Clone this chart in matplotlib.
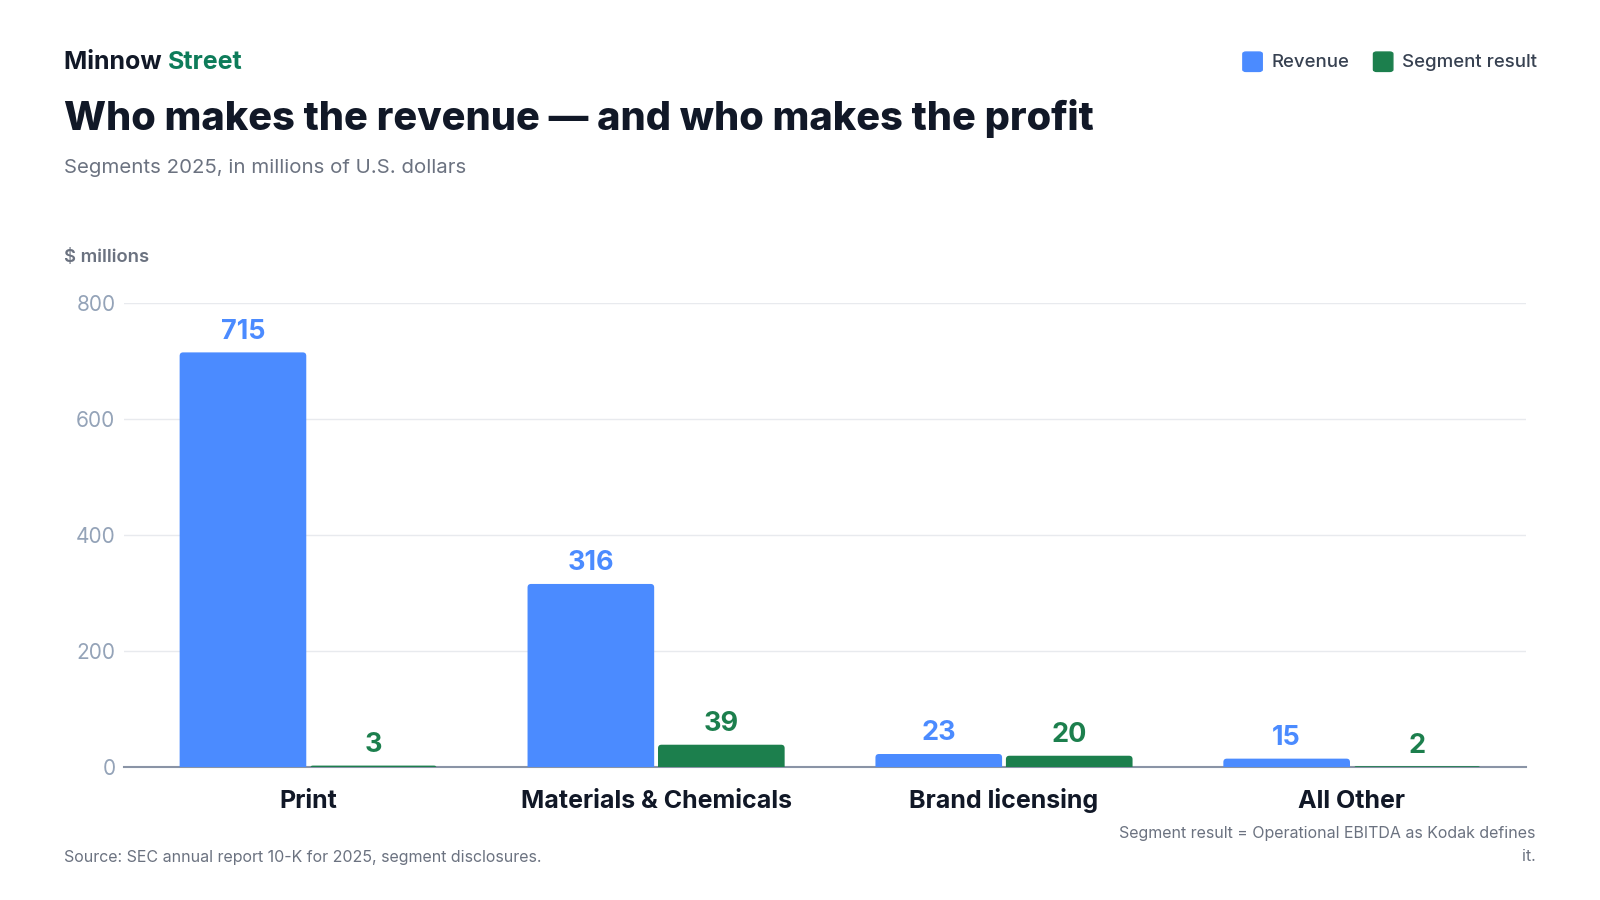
import numpy as np
from matplotlib import pyplot as plt
from matplotlib.patches import FancyBboxPatch

plt.rcParams['font.family'] = ['Inter', 'DejaVu Sans']

categories = ['Print', 'Materials & Chemicals', 'Brand licensing', 'All Other']
revenue = [715, 316, 23, 15]
segment_result = [3, 39, 20, 2]
y_ticks = [0, 200, 400, 600, 800]

blue = '#4B8BFF'
green = '#1C7F4D'
dark = '#111827'
gray = '#6B7280'
tick_gray = '#94A3B8'

W, H = 1600, 900
S = 1600 / 1568  # positions below were measured on a scaled-down view


def fx(p):
    return p * S / W


def fy(p):
    return 1 - p * S / H


fig = plt.figure(figsize=(16, 9), dpi=100, facecolor='white')
ax = fig.add_axes([fx(122), fy(752), fx(1495) - fx(122), fy(297) - fy(752)])

x = np.arange(len(categories))
w = 0.364
off = 0.1875
xlim = (-0.528, 3.499)
ylim = (0, 800)
ax.set_xlim(*xlim)
ax.set_ylim(*ylim)
b1 = ax.bar(x - off, revenue, w, color=blue, zorder=3)
b2 = ax.bar(x + off, segment_result, w, color=green, zorder=3)

# swap plain bars for ones with slightly rounded tops
ux = (xlim[1] - xlim[0]) / ((1495 - 122) * S)   # data units per pixel, x
uy = (ylim[1] - ylim[0]) / ((752 - 297) * S)    # data units per pixel, y
aspect = uy / ux
r_px = 3.5
for bars in (b1, b2):
    for bar in bars:
        bx, bw, bh = bar.get_x(), bar.get_width(), bar.get_height()
        h_px = bh / uy + r_px
        r = min(r_px, h_px / 2) * ux
        p = FancyBboxPatch((bx, -r_px * uy), bw, bh + r_px * uy,
                           boxstyle=f'round,pad=0,rounding_size={r}',
                           mutation_aspect=aspect, facecolor=bar.get_facecolor(),
                           edgecolor='none', zorder=3)
        ax.add_patch(p)
        bar.set_visible(False)

for bars, vals, col in [(b1, revenue, blue), (b2, segment_result, green)]:
    for bar, v in zip(bars, vals):
        ax.annotate(str(v), (bar.get_x() + bar.get_width() / 2, v),
                    xytext=(0, 9.8), textcoords='offset points',
                    ha='center', va='baseline', fontsize=19.5, fontweight='bold', color=col)

ax.set_yticks(y_ticks)
ax.set_yticklabels([str(t) for t in y_ticks], fontsize=15, color=tick_gray)
ax.set_xticks([])
ax.tick_params(axis='y', length=0, pad=6.5)
for s in ax.spines.values():
    s.set_visible(False)
ax.grid(axis='y', color='#E8EAEE', linewidth=1, zorder=0)
ax.axhline(0, color='#8A94A6', linewidth=1.5, zorder=2, clip_on=False)

# category labels, baseline-aligned under the axis
for xi, cat in zip(x, categories):
    ax.annotate(cat, (xi, 0), xytext=(0, -(792 - 752) * S * 0.72), textcoords='offset points',
                ha='center', va='baseline', fontsize=18, fontweight='bold', color=dark,
                annotation_clip=False)

# header
t1 = fig.text(fx(63), fy(61), 'Minnow ', fontsize=18, fontweight='bold', color=dark, va='center')
fig.canvas.draw()
bb = t1.get_window_extent()
fig.text(bb.x1 / W, fy(61), 'Street', fontsize=18, fontweight='bold', color='#0E7C5A', va='center')
fig.text(fx(63), fy(116), 'Who makes the revenue \u2014 and who makes the profit',
         fontsize=28.6, fontweight='heavy', color=dark, va='center')
fig.text(fx(63), fy(165), 'Segments 2025, in millions of U.S. dollars',
         fontsize=14.7, color=gray, va='center')
fig.text(fx(63), fy(252), '$ millions', fontsize=13.3, fontweight='semibold',
         color=gray, va='center')

# legend
for x0, col, label in [(1218, blue, 'Revenue'), (1346, green, 'Segment result')]:
    fig.patches.append(FancyBboxPatch((fx(x0), fy(70)), 19 * S / W, 19 * S / H,
                                      boxstyle='round,pad=0,rounding_size=0.002',
                                      transform=fig.transFigure, color=col))
    fig.text(fx(x0 + 28), fy(61), label, fontsize=13.4, fontweight='medium',
             color='#374151', va='center')

# footer
fig.text(fx(63), fy(840), 'Source: SEC annual report 10-K for 2025, segment disclosures.',
         fontsize=11.5, color=gray, va='center')
fig.text(fx(1505), fy(828), 'Segment result = Operational EBITDA as Kodak defines\nit.',
         fontsize=11.5, color=gray, va='center', ha='right', multialignment='right', linespacing=1.7)

fig.savefig('out.png', dpi=100, facecolor='white')
